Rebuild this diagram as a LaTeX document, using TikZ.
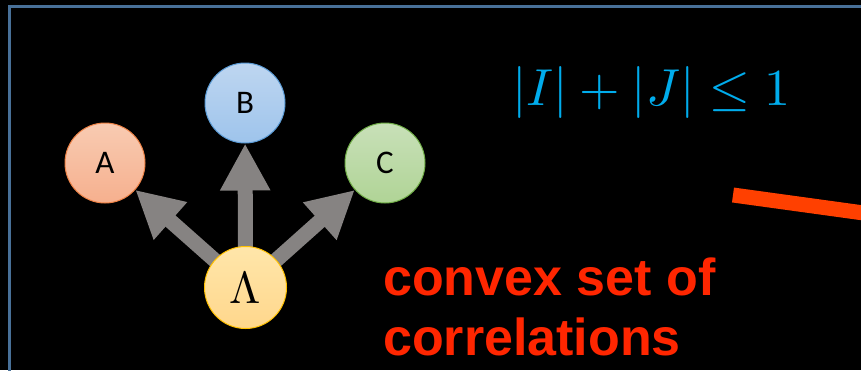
\documentclass[tikz,border=0pt]{standalone}
\usepackage{fontspec}
\newfontfamily\labfont{Carlito}[Scale=3.3]
\newfontfamily\boldsans{Liberation Sans}
\usepackage{unicode-math}
\setmathfont{Latin Modern Math}
\usetikzlibrary{arrows.meta}
\definecolor{framecol}{RGB}{72,112,152}
\definecolor{arrowgray}{RGB}{134,131,130}
\definecolor{eqcyan}{RGB}{0,172,236}
\definecolor{txtred}{RGB}{255,38,0}
\definecolor{linered}{RGB}{255,64,0}
\definecolor{Atop}{RGB}{248,203,178}\definecolor{Abot}{RGB}{246,176,142}\definecolor{Aedge}{RGB}{237,130,70}
\definecolor{Btop}{RGB}{190,214,240}\definecolor{Bbot}{RGB}{158,196,236}\definecolor{Bedge}{RGB}{91,155,213}
\definecolor{Ctop}{RGB}{200,224,184}\definecolor{Cbot}{RGB}{176,212,150}\definecolor{Cedge}{RGB}{112,173,71}
\definecolor{Ltop}{RGB}{255,230,170}\definecolor{Lbot}{RGB}{255,215,140}\definecolor{Ledge}{RGB}{255,192,0}
\tikzset{
  party/.style={circle, minimum size=80pt, inner sep=0pt, line width=1pt, font=\labfont},
  bigarrow/.style={draw=arrowgray, line width=15pt, -{Triangle[width=47pt,length=47pt]}},
  redtext/.style={txtred, anchor=base west, inner sep=0pt, font=\fontsize{52}{60}\boldsans\bfseries\selectfont},
}
\begin{document}
\begin{tikzpicture}[x=1pt,y=-1pt]
\useasboundingbox (0,0) rectangle (861,370);
\clip (0,0) rectangle (861,370);
\fill[black] (0,0) rectangle (861,370);
\draw[framecol, line width=3pt] (9.5,6.5) rectangle (900,400);
% nodes
\node[party, draw=Aedge, top color=Atop, bottom color=Abot] (A) at (105,163) {A};
\node[party, draw=Bedge, top color=Btop, bottom color=Bbot] (B) at (245,103) {B};
\node[party, draw=Cedge, top color=Ctop, bottom color=Cbot] (C) at (385,163) {C};
\coordinate (L0) at (245.5,287.5);
\draw[bigarrow] (L0) -- (A);
\draw[bigarrow] (L0) -- (B);
\draw[bigarrow] (L0) -- (C);
\node[party, minimum size=82pt, draw=Ledge, top color=Ltop, bottom color=Lbot, font=\fontsize{45}{50}\selectfont] (L) at (L0) {$\Lambda$};
% equation
\node[eqcyan, anchor=west, inner sep=0pt, font=\fontsize{52}{60}\selectfont] (eq) at (512,92) {$|I|+|J|\leq 1$};
% red line
\coordinate (r1) at (733,195);
\coordinate (r2) at (900,218);
\draw[linered, line width=15pt] (r1) -- (r2);
% red text
\node[redtext] (t1) at (383,295) {convex set of};
\node[redtext] (t2) at (383,355) {correlations};
\end{tikzpicture}
\end{document}
